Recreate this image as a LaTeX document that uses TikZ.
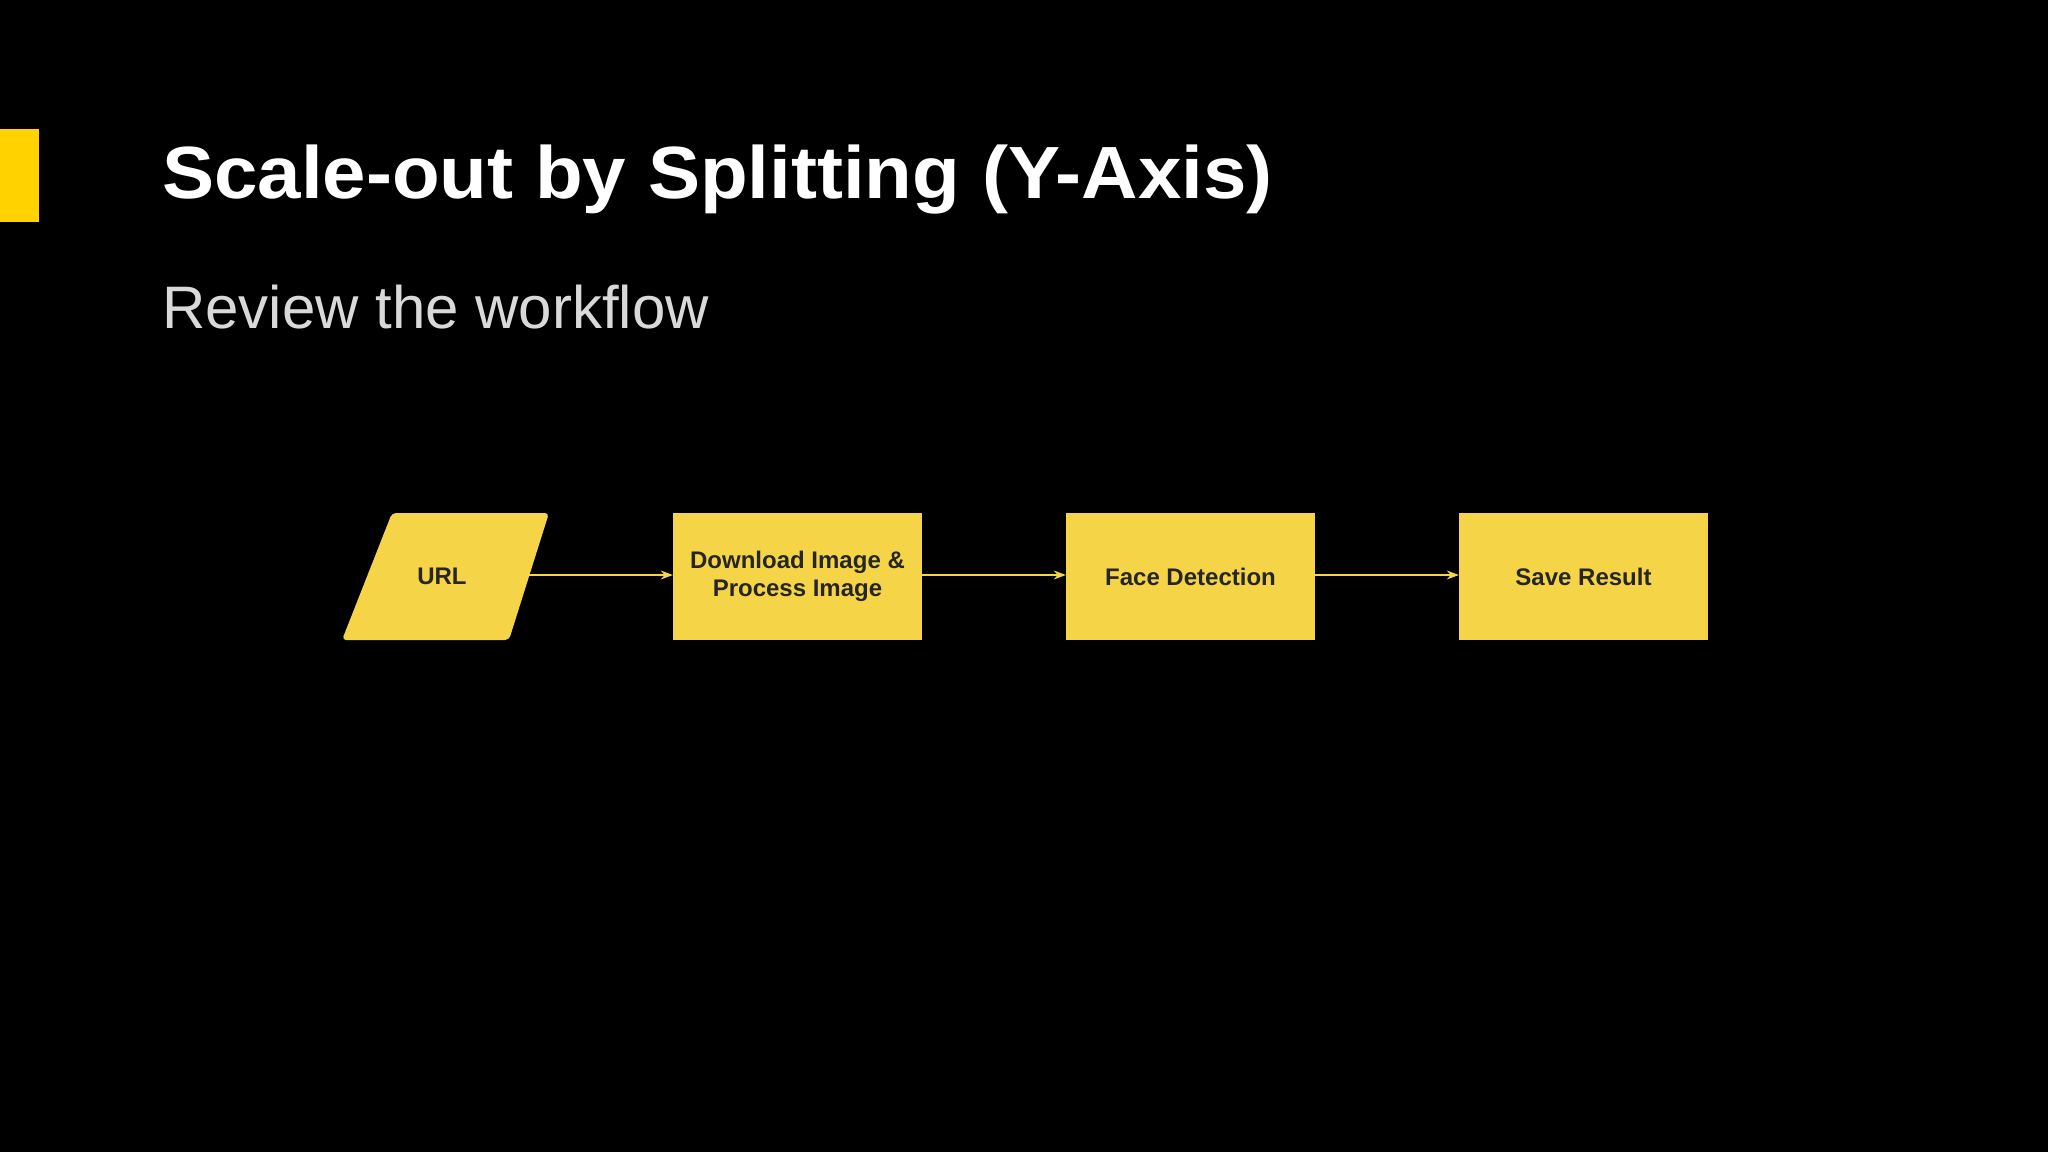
\documentclass[tikz,border=0pt]{standalone}
\usepackage{fontspec}
\setmainfont{Liberation Sans}
\usetikzlibrary{arrows.meta}
\definecolor{ylw}{HTML}{F5D547}
\definecolor{barY}{HTML}{FFD200}
\tikzset{
  proc/.style={fill=ylw, minimum width=249pt, minimum height=127pt, inner sep=0pt, align=center, font=\bfseries\fontsize{24}{28}\selectfont, text=black!85},
  link/.style={draw=ylw, line width=1.3pt, -{Stealth[length=12pt,width=9pt]}}
}
\begin{document}
\begin{tikzpicture}[x=1pt,y=-1pt]
\useasboundingbox (0,0) rectangle (2048,1152);
\fill[black] (0,0) rectangle (2048,1152);
\fill[barY] (0,129) rectangle (39,222);
\node[anchor=base west, inner sep=0pt, text=white, font=\bfseries\fontsize{74}{80}\selectfont] (title) at (162,198) {\scalebox{1.055}[1]{Scale-out by Splitting (Y-Axis)}};
\node[anchor=base west, inner sep=0pt, text=black!15, font=\fontsize{60}{70}\selectfont] (sub) at (162,328) {Review the workflow};
\fill[ylw, rounded corners=4pt] (392,513) -- (549,513) -- (509,640) -- (342,640) -- cycle;
\node[font=\bfseries\fontsize{24}{28}\selectfont, text=black!85] (url) at (442,576.5) {URL};
\coordinate (urlr) at (529,575);
\node[proc] (dl) at (797.5,576.5) {Download Image \&\\Process Image};
\node[proc] (fd) at (1190.5,576.5) {Face Detection};
\node[proc] (sr) at (1583.5,576.5) {Save Result};
\draw[link] (urlr) -- (dl.west|-urlr);
\draw[link] (dl.east|-urlr) -- (fd.west|-urlr);
\draw[link] (fd.east|-urlr) -- (sr.west|-urlr);
\end{tikzpicture}
\end{document}
